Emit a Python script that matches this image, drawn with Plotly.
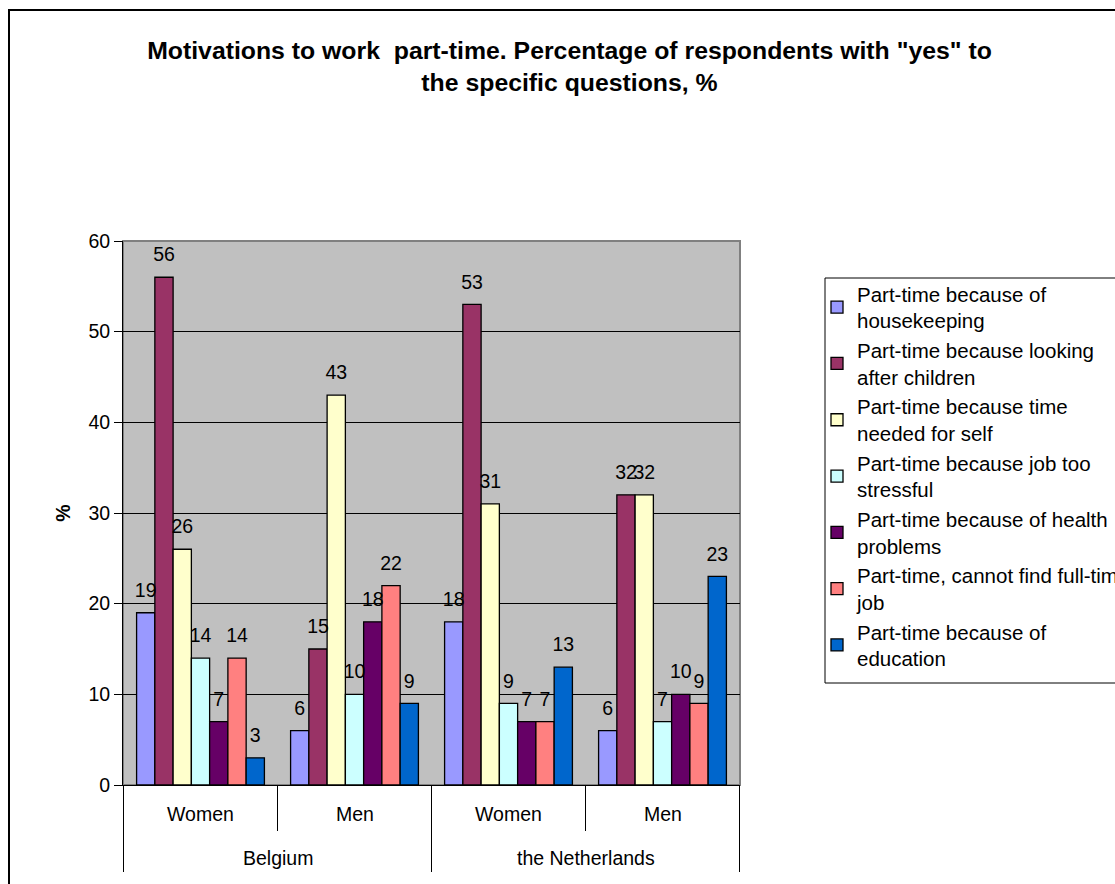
import plotly.graph_objects as go

countries = ["Belgium", "Belgium", "the Netherlands", "the Netherlands"]
genders = ["Women", "Men", "Women", "Men"]

series_names = [
    "Part-time because of<br>housekeeping",
    "Part-time because looking<br>after children",
    "Part-time because time<br>needed for self",
    "Part-time because job too<br>stressful",
    "Part-time because of health<br>problems",
    "Part-time, cannot find full-time<br>job",
    "Part-time because of<br>education",
]
housekeeping = [19, 6, 18, 6]
children = [56, 15, 53, 32]
self_time = [26, 43, 31, 32]
stressful = [14, 10, 9, 7]
health = [7, 18, 7, 10]
no_fulltime = [14, 22, 7, 9]
education = [3, 9, 13, 23]
series_values = [housekeeping, children, self_time, stressful, health, no_fulltime, education]
colors = ["#9999FF", "#993366", "#FFFFCC", "#CCFFFF", "#660066", "#FF8080", "#0066CC"]

title_text = 'Motivations to work  part-time. Percentage of respondents with "yes" to<br>the specific questions, %'
y_ticks = [0, 10, 20, 30, 40, 50, 60]

FONT = "Liberation Sans, Arial, sans-serif"
W, H = 1115, 884
L, R, T, B = 123, 740, 241, 785
GAP = 0.17

cats = [f"{c} | {g}" for c, g in zip(countries, genders)]

fig = go.Figure()
for name, vals, col in zip(series_names, series_values, colors):
    fig.add_trace(go.Bar(
        x=cats, y=vals, name=name,
        marker=dict(color=col, line=dict(color="black", width=1.3)),
    ))
# data labels: invisible grouped scatter points so labels align with the bars
for name, vals in zip(series_names, series_values):
    fig.add_trace(go.Scatter(
        x=cats, y=vals, mode="markers+text", text=[str(v) for v in vals],
        textposition="top center", cliponaxis=False, showlegend=False, hoverinfo="skip",
        marker=dict(size=16, opacity=0),
        textfont=dict(family=FONT, size=19.5, color="black"),
    ))

pw = R - L
ph = B - T
def px_x(p):
    return (p - L) / pw
def px_y(p):
    return (B - p) / ph

fig.update_layout(
    width=W, height=H,
    margin=dict(l=L, r=W - R, t=T, b=H - B, autoexpand=False),
    paper_bgcolor="white", plot_bgcolor="#C0C0C0",
    barmode="group", bargap=GAP, bargroupgap=0,
    scattermode="group", scattergap=GAP,
    font=dict(family=FONT, size=19.5, color="black"),
    title=dict(text=title_text, x=569.5 / W, xanchor="center",
               y=1 - 59 / H, yanchor="top", yref="container",
               font=dict(family=FONT, size=24.8, color="black", weight="bold")),
    showlegend=True,
    legend=dict(x=px_x(817), y=px_y(274), xanchor="left", yanchor="top",
                bgcolor="rgba(0,0,0,0)", borderwidth=0,
                font=dict(family=FONT, size=20.5, color="black"),
                traceorder="normal"),
    xaxis=dict(type="category", categoryorder="array", categoryarray=cats,
               showline=True, linecolor="black", linewidth=1,
               ticks="outside", tickson="boundaries", ticklen=45, tickcolor="black", tickwidth=1,
               showticklabels=False, showgrid=False),
    yaxis=dict(range=[0, 60], tickvals=y_ticks, showline=True, linecolor="black", linewidth=1,
               ticks="outside", ticklen=8, tickcolor="black",
               showgrid=True, gridcolor="black", gridwidth=1, zeroline=False,
               tickfont=dict(family=FONT, size=19.5, color="black"),
               title=dict(text="<b>%</b>", standoff=12, font=dict(family=FONT, size=19.5))),
)

# category labels (inner row: gender, outer row: country)
for i, g in enumerate(genders):
    fig.add_annotation(x=cats[i], xref="x", y=px_y(814), yref="paper", yanchor="middle",
                       text=g, showarrow=False, font=dict(family=FONT, size=19.5, color="black"))
groups = []
for c in countries:
    if c not in groups:
        groups.append(c)
for c in groups:
    idx = [i for i, cc in enumerate(countries) if cc == c]
    mid = (idx[0] + idx[-1]) / 2
    fig.add_annotation(x=mid, xref="x", y=px_y(858), yref="paper", yanchor="middle",
                       text=c, showarrow=False, font=dict(family=FONT, size=19.5, color="black"))
    # outer dividers at both edges of each country group
    for b in (idx[0] - 0.5, idx[-1] + 0.5):
        fig.add_shape(type="line", xref="x", yref="paper", x0=b, x1=b,
                      y0=0, y1=px_y(872), line=dict(color="black", width=1))

# plot-area border (gray, Excel style)
fig.add_shape(type="rect", xref="x domain", yref="y domain", x0=0, x1=1, y0=0, y1=1,
              line=dict(color="#808080", width=2), layer="below")
# legend frame
fig.add_shape(type="rect", xref="paper", yref="paper",
              x0=px_x(825), x1=px_x(1140), y0=px_y(683), y1=px_y(278),
              line=dict(color="black", width=1), fillcolor="white", layer="below")
# chart outer border
fig.add_shape(type="rect", xref="paper", yref="paper",
              x0=px_x(9), x1=px_x(1130), y0=px_y(900), y1=px_y(10),
              line=dict(color="black", width=2))

fig.write_html("out.html")
